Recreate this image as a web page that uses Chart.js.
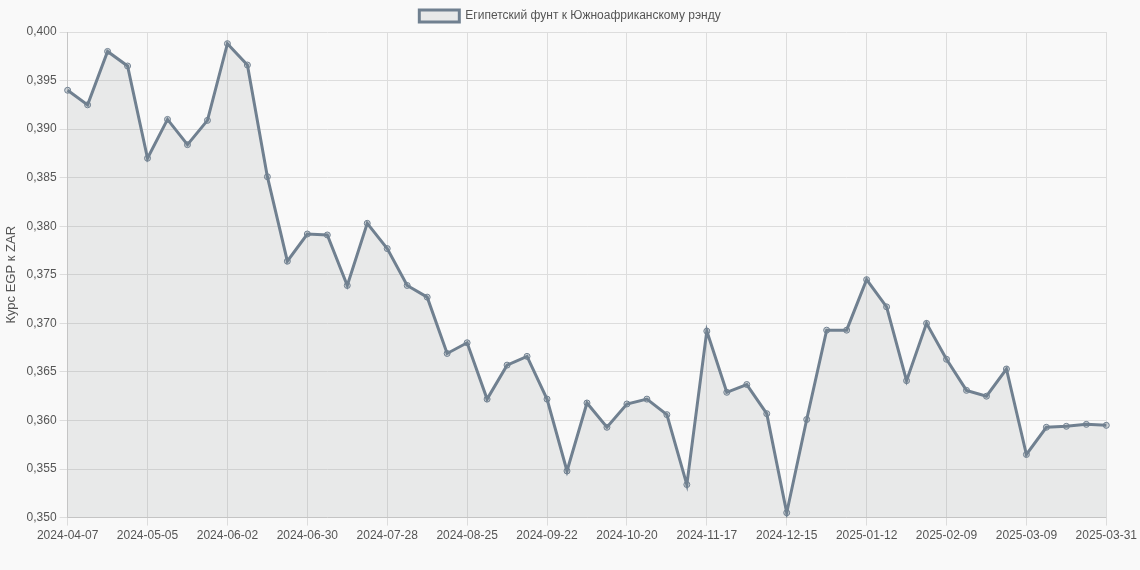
<!DOCTYPE html>
<html><head><meta charset="utf-8">
<script src="https://cdn.jsdelivr.net/npm/chart.js@4"></script>
<style>html,body{margin:0;background:#f9f9f9;}#w{width:1140px;height:570px;}</style>
</head><body><div id="w"><canvas id="c"></canvas></div>
<script>
const values=[0.394,0.3925,0.398,0.3965,0.387,0.391,0.3884,0.3909,0.3988,0.3966,0.3851,0.3764,0.3792,0.3791,0.3739,0.3803,0.3777,0.3739,0.3727,0.3669,0.3680,0.3622,0.3657,0.3666,0.3622,0.3548,0.3618,0.3593,0.3617,0.3622,0.3606,0.3534,0.3692,0.3629,0.3637,0.3607,0.3505,0.3601,0.3693,0.3693,0.3745,0.3717,0.3641,0.3700,0.3663,0.3631,0.3625,0.3653,0.3565,0.3593,0.3594,0.3596,0.3595];
const labels=[];
{const d=new Date(Date.UTC(2024,3,7));for(let i=0;i<52;i++){const t=new Date(d.getTime()+i*7*864e5);labels.push(t.toISOString().slice(0,10));}labels.push('2025-03-31');}
const seriesName='Египетский фунт к Южноафриканскому рэнду';
const shown=i=>(i%4===0||i===labels.length-1);
new Chart(document.getElementById('c'),{type:'line',
data:{labels,datasets:[{label:seriesName,data:values,borderColor:'#708090',backgroundColor:'rgba(120,135,135,0.13)',fill:true,borderWidth:3,tension:0,pointRadius:3,pointBackgroundColor:'rgba(112,128,144,0.3)',pointBorderColor:'#708090',pointBorderWidth:1}]},
options:{responsive:true,maintainAspectRatio:false,animation:false,layout:{padding:{bottom:24}},
plugins:{legend:{labels:{color:'#555',font:{size:12}}}},
scales:{x:{grid:{color:c=>shown(c.index)?'#ddd':'rgba(0,0,0,0)'},ticks:{autoSkip:false,maxRotation:0,color:'#555',callback:function(v,i){return shown(i)?labels[i]:'';}}},
y:{min:0.35,max:0.4,ticks:{stepSize:0.005,color:'#555',callback:v=>v.toFixed(3).replace('.',',')},grid:{color:'#ddd'},title:{display:true,text:'Курс EGP к ZAR',color:'#555',font:{size:13}}}}}});
</script></body></html>
